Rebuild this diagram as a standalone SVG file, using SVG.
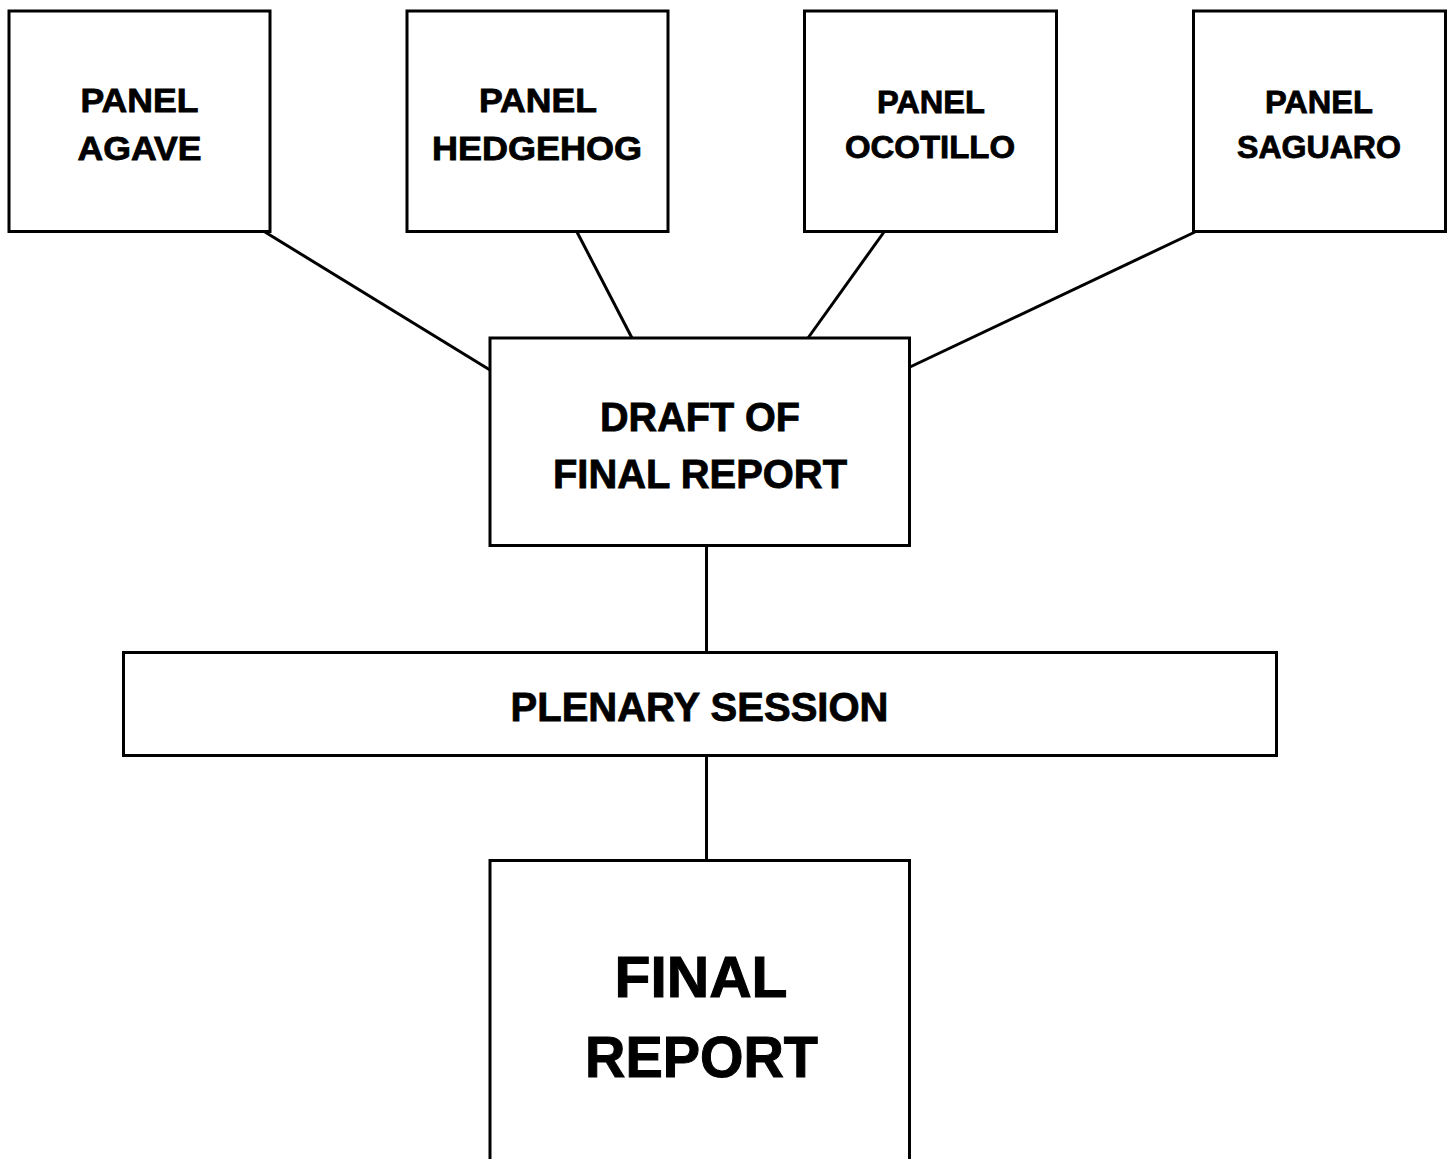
<svg xmlns="http://www.w3.org/2000/svg" width="1452" height="1159" viewBox="0 0 1452 1159">
<style>
.box{fill:#fff;stroke:#000;stroke-width:3}
.conn line{stroke:#000;stroke-width:3}
text{font-family:"Liberation Sans",Arial,sans-serif;font-weight:bold;fill:#000;stroke:#000;stroke-width:0.8;text-anchor:middle}
.p{font-size:33px}
.q{font-size:31px}
.d{font-size:40px}
.f{font-size:57px;stroke-width:1}
</style>
<rect width="1452" height="1159" fill="#fff"/>
<g class="conn" id="connectors">
<line x1="265" y1="232" x2="490" y2="370"/>
<line x1="577" y1="232" x2="632" y2="338"/>
<line x1="884" y1="232" x2="808" y2="338"/>
<line x1="1195" y1="232" x2="910" y2="367"/>
<line x1="706.5" y1="546" x2="706.5" y2="652"/>
<line x1="706.5" y1="756" x2="706.5" y2="860"/>
</g>
<g id="panel-agave">
<rect class="box" x="9" y="11" width="261" height="220.5"/>
<text class="p" x="139.5" y="112" textLength="118" lengthAdjust="spacingAndGlyphs">PANEL</text>
<text class="p" x="139.5" y="160" textLength="124" lengthAdjust="spacingAndGlyphs">AGAVE</text>
</g>
<g id="panel-hedgehog">
<rect class="box" x="407" y="11" width="261" height="220.5"/>
<text class="p" x="538" y="112" textLength="118" lengthAdjust="spacingAndGlyphs">PANEL</text>
<text class="p" x="537" y="160" textLength="210" lengthAdjust="spacingAndGlyphs">HEDGEHOG</text>
</g>
<g id="panel-ocotillo">
<rect class="box" x="804.5" y="11" width="252" height="220.5"/>
<text class="q" x="931" y="113" textLength="108" lengthAdjust="spacingAndGlyphs">PANEL</text>
<text class="q" x="930" y="158" textLength="170" lengthAdjust="spacingAndGlyphs">OCOTILLO</text>
</g>
<g id="panel-saguaro">
<rect class="box" x="1193.5" y="11" width="252" height="220.5"/>
<text class="q" x="1319" y="113" textLength="108" lengthAdjust="spacingAndGlyphs">PANEL</text>
<text class="q" x="1319" y="158" textLength="164" lengthAdjust="spacingAndGlyphs">SAGUARO</text>
</g>
<g id="draft">
<rect class="box" x="490" y="338" width="419.5" height="207.5"/>
<text class="d" x="700" y="431" textLength="200" lengthAdjust="spacingAndGlyphs">DRAFT OF</text>
<text class="d" x="700" y="488" textLength="294" lengthAdjust="spacingAndGlyphs">FINAL REPORT</text>
</g>
<g id="plenary">
<rect class="box" x="123.5" y="652.5" width="1153" height="103"/>
<text class="d" x="699.5" y="721" textLength="378" lengthAdjust="spacingAndGlyphs">PLENARY SESSION</text>
</g>
<g id="final-report">
<rect class="box" x="490" y="860.5" width="419.5" height="320"/>
<text class="f" x="701" y="997" textLength="173" lengthAdjust="spacingAndGlyphs">FINAL</text>
<text class="f" x="701.5" y="1077" textLength="233" lengthAdjust="spacingAndGlyphs">REPORT</text>
</g>
</svg>
